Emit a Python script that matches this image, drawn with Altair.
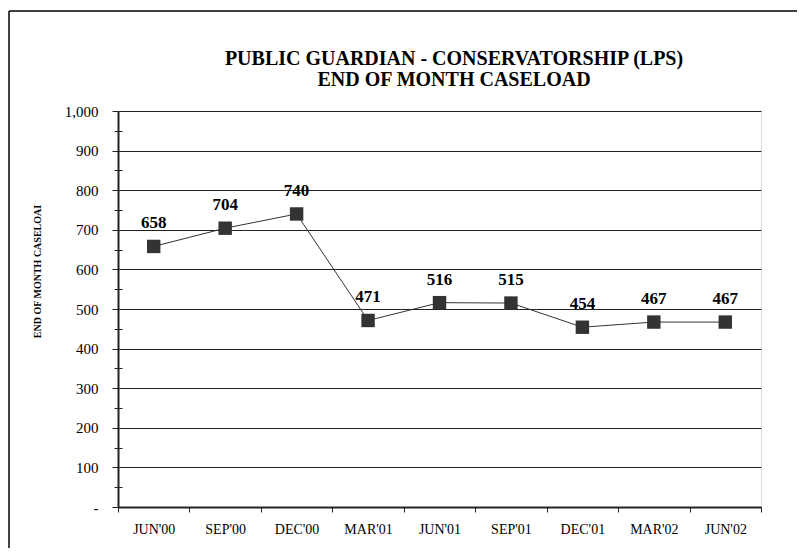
import altair as alt
import pandas as pd

months = ["JUN'00", "SEP'00", "DEC'00", "MAR'01", "JUN'01", "SEP'01", "DEC'01", "MAR'02", "JUN'02"]
caseload = [658, 704, 740, 471, 516, 515, 454, 467, 467]
major_ticks = [0, 100, 200, 300, 400, 500, 600, 700, 800, 900, 1000]
minor_ticks = [50, 150, 250, 350, 450, 550, 650, 750, 850, 950]
title_lines = ["PUBLIC GUARDIAN - CONSERVATORSHIP (LPS)", "END OF MONTH CASELOAD"]
y_title = "END OF MONTH CASELOAI"

df = pd.DataFrame({"month": months, "value": caseload})
FONT = "Liberation Serif"

x_enc = alt.X("month:N", sort=months, scale=alt.Scale(paddingInner=0, paddingOuter=0),
              axis=alt.Axis(title=None, tickBand="extent", labelFont=FONT, labelFontSize=14,
                            labelColor="black", labelAngle=0, tickSize=5, tickColor="#222",
                            domainColor="#222", domainWidth=2, labelPadding=10))
y_scale = alt.Scale(domain=[0, 1000], nice=False)

line = alt.Chart(df).mark_line(color="#333", strokeWidth=1).encode(
    x=x_enc,
    y=alt.Y("value:Q", scale=y_scale,
            axis=alt.Axis(values=major_ticks, title=y_title,
                          titleFont=FONT, titleFontSize=10, titleFontWeight="bold",
                          titleColor="black", titleAngle=270, titleAlign="center",
                          titleBaseline="middle", titleX=-81, titleY=160,
                          labelExpr="datum.value == 0 ? '-' : format(datum.value, ',')",
                          labelFont=FONT, labelFontSize=15, labelColor="black",
                          labelPadding=14, tickSize=6, tickColor="#222",
                          domainColor="#222", domainWidth=2,
                          grid=True, gridColor="#222", gridWidth=1)),
)

points = alt.Chart(df).mark_square(size=180, color="#333", opacity=1).encode(
    x=alt.X("month:N", sort=months),
    y=alt.Y("value:Q", scale=y_scale,
            axis=alt.Axis(orient="left", values=minor_ticks, offset=-4, tickSize=8,
                          tickColor="#222", domain=False, labels=False, grid=False, title=None)),
)

labels = alt.Chart(df).mark_text(font=FONT, fontSize=17, fontWeight="bold", color="black",
                                 dy=-18, baseline="alphabetic").encode(
    x=alt.X("month:N", sort=months),
    y=alt.Y("value:Q", scale=y_scale, axis=None),
    text=alt.Text("value:Q"),
)

one = pd.DataFrame({"k": [0]})
frame_left = alt.Chart(one).mark_rule(color="black", strokeWidth=1.5, clip=False).encode(
    x=alt.value(-109), y=alt.value(-100), y2=alt.value(480))
frame_top = alt.Chart(one).mark_rule(color="black", strokeWidth=1.5, clip=False).encode(
    x=alt.value(-109), x2=alt.value(700), y=alt.value(-100))

title1 = alt.Chart(pd.DataFrame({"t": [title_lines[0]]})).mark_text(
    font=FONT, fontSize=20, fontWeight="bold", color="black", align="center",
    baseline="alphabetic", clip=False
).encode(x=alt.value(336), y=alt.value(-46), text="t:N")

title2 = alt.Chart(pd.DataFrame({"t": [title_lines[1]]})).mark_text(
    font=FONT, fontSize=20, fontWeight="bold", color="black", align="center",
    baseline="alphabetic", clip=False
).encode(x=alt.value(336), y=alt.value(-25), text="t:N")

chart = alt.layer(frame_left, frame_top, line, points, labels, title1, title2).resolve_axis(
    y="independent"
).properties(
    width=643, height=396,
    autosize=alt.AutoSizeParams(type="none"),
    padding={"left": 110, "top": 103, "right": 36, "bottom": 41},
).configure_view(stroke="black", strokeWidth=1.2).configure(background="white")

chart.save("out.html", embed_options={"renderer": "svg", "actions": False})
